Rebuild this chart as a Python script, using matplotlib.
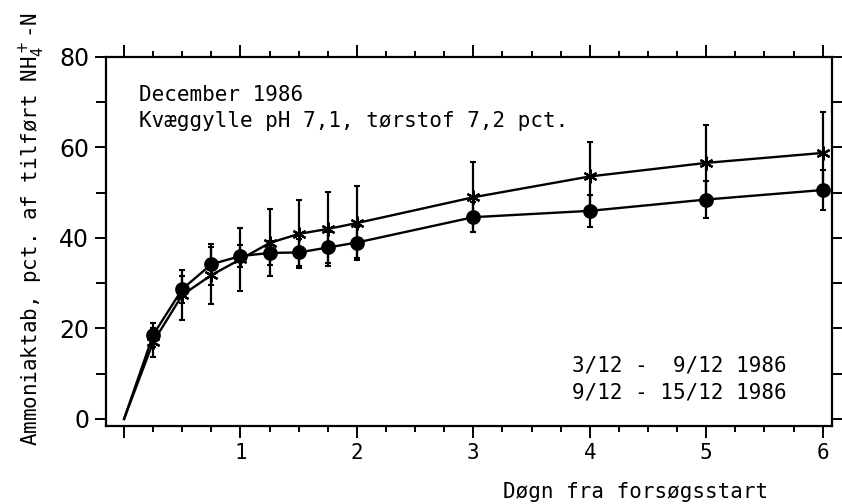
import numpy as np
import matplotlib
matplotlib.use("Agg")
import matplotlib.pyplot as plt
from matplotlib.ticker import MultipleLocator, FixedLocator

# Days since start of the trial
days = [0, 0.25, 0.5, 0.75, 1.0, 1.25, 1.5, 1.75, 2.0, 3, 4, 5, 6]

# Ammonia loss, pct. of applied NH4+-N (filled dots)
loss_dot = [0, 18.6, 28.7, 34.2, 36.0, 36.7, 36.8, 37.9, 39.0, 44.6, 46.0, 48.5, 50.6]
err_dot = [0, 2.6, 3.0, 4.5, 2.5, 2.6, 3.0, 3.5, 3.5, 3.3, 3.5, 4.0, 4.5]

# Ammonia loss, pct. of applied NH4+-N (asterisks)
loss_star = [0, 17.0, 27.4, 31.8, 35.3, 38.9, 40.9, 42.0, 43.3, 49.0, 53.6, 56.6, 58.8]
err_star = [0, 3.2, 5.5, 6.3, 7.0, 7.4, 7.6, 8.2, 8.2, 7.7, 7.7, 8.4, 9.0]

x_tick_labels = ["", "1", "2", "3", "4", "5", "6"]
y_tick_labels = ["0", "20", "40", "60", "80"]

title_lines = ["December 1986", "Kvæggylle pH 7,1, tørstof 7,2 pct."]
period_lines = ["3/12 -  9/12 1986", "9/12 - 15/12 1986"]

mono = "DejaVu Sans Mono"

fig = plt.figure(figsize=(8.42, 5.04), dpi=100)
ax = fig.add_axes([106 / 842, 1 - 426 / 504, (832 - 106) / 842, (426 - 57) / 504])

ink = "black"
for y, e, mk, ms in ((loss_star, err_star, (6, 2, 0), 10), (loss_dot, err_dot, "o", 9)):
    ax.plot(days, y, color=ink, lw=1.7, zorder=2)
    ax.errorbar(days[1:], y[1:], yerr=e[1:], fmt="none", ecolor=ink,
                elinewidth=1.6, capsize=2.3, capthick=1.5, zorder=3)
    ax.plot(days[1:], y[1:], linestyle="none", marker=mk, ms=ms, mew=1.6,
            color=ink, zorder=4)

ax.set_xlim(-0.155, 6.08)
ax.set_ylim(-1.55, 80)

# Ticks on all four sides, pointing outwards
ax.xaxis.set_major_locator(FixedLocator(range(7)))
ax.xaxis.set_minor_locator(MultipleLocator(0.25))
ax.set_xticklabels(x_tick_labels, fontfamily=mono, fontsize=15)
ax.yaxis.set_major_locator(FixedLocator([0, 20, 40, 60, 80]))
ax.yaxis.set_minor_locator(MultipleLocator(10))
ax.set_yticklabels(y_tick_labels, fontfamily="DejaVu Sans", fontsize=17)

ax.tick_params(axis="x", which="major", direction="out", length=8.5, width=1.4,
               pad=4, top=True, bottom=True)
ax.tick_params(axis="x", which="minor", direction="out", length=4.5, width=1.4,
               top=True, bottom=True)
ax.tick_params(axis="y", which="major", direction="out", length=8, width=1.4,
               pad=4, left=True, right=True)
ax.tick_params(axis="y", which="minor", direction="out", length=7, width=1.4,
               left=True, right=True)
for s in ax.spines.values():
    s.set_linewidth(1.6)

ax.set_xlabel("Døgn fra forsøgsstart", fontfamily=mono, fontsize=15, va="center")
ax.xaxis.set_label_coords(0.73, -0.179)
ax.set_ylabel("Ammoniaktab, pct. af tilført NH$_4^+$-N", fontfamily=mono,
              fontsize=15, va="center", ha="center")
ax.yaxis.set_label_coords(-0.102, 0.535)

ax.text(0.0455, 0.898, title_lines[0], transform=ax.transAxes, fontfamily=mono,
        fontsize=15, ha="left", va="center")
ax.text(0.0455, 0.8266, title_lines[1], transform=ax.transAxes, fontfamily=mono,
        fontsize=15, ha="left", va="center")
ax.text(0.938, 0.165, period_lines[0], transform=ax.transAxes, fontfamily=mono,
        fontsize=15, ha="right", va="center")
ax.text(0.938, 0.092, period_lines[1], transform=ax.transAxes, fontfamily=mono,
        fontsize=15, ha="right", va="center")

fig.savefig("out.png", dpi=100)
